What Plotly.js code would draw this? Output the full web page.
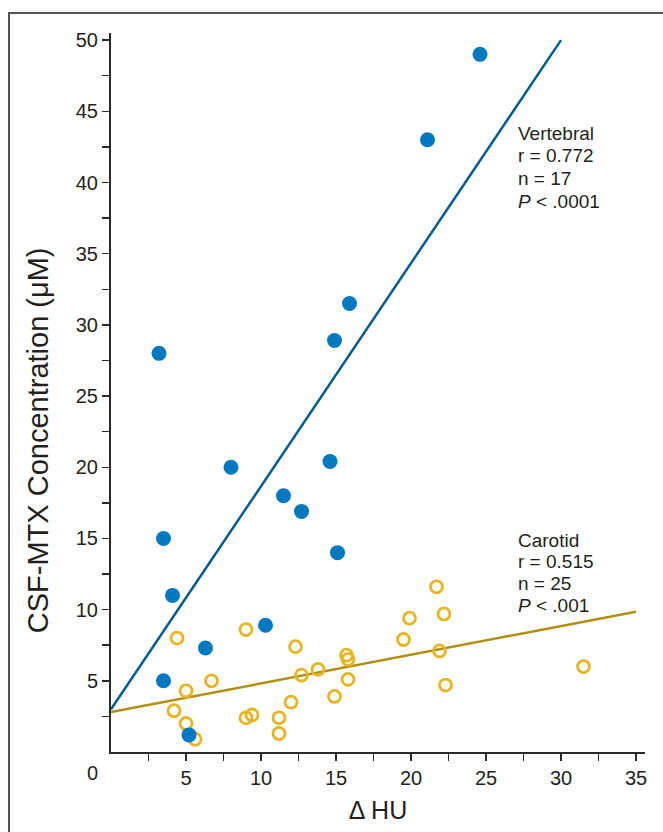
<!DOCTYPE html>
<html>
<head>
<meta charset="utf-8">
<script src="https://cdn.plot.ly/plotly-3.0.1.min.js"></script>
<style>
  html, body { margin: 0; padding: 0; background: #fff; overflow: hidden; }
  #frame { position: absolute; left: 8px; top: 12px; width: 900px; height: 1000px;
           border-left: 2px solid #555; border-top: 2px solid #555; box-sizing: border-box; }
  #chart { position: absolute; left: 0; top: 0; width: 663px; height: 832px; }
</style>
</head>
<body>
<div id="frame"></div>
<div id="chart"></div>
<script>
// Vertebral artery injection (filled circles)
const vertX = [24.6, 21.1, 15.9, 14.9, 3.2, 14.6, 8.0, 11.5, 12.7, 15.1, 3.5, 4.1, 10.3, 6.3, 3.5, 5.2];
const vertY = [49.0, 43.0, 31.5, 28.9, 28.0, 20.4, 20.0, 18.0, 16.9, 14.0, 15.0, 11.0, 8.9, 7.3, 5.0, 1.2];

// Carotid artery injection (open circles)
const carX = [4.4, 9.0, 5.0, 6.7, 4.2, 5.0, 5.6, 9.0, 9.4, 11.2, 11.2, 12.0, 12.3, 12.7, 13.8,
              14.9, 15.7, 15.8, 15.8, 19.5, 19.9, 21.7, 22.2, 21.9, 22.3, 31.5];
const carY = [8.0, 8.6, 4.3, 5.0, 2.9, 2.0, 0.9, 2.4, 2.6, 2.4, 1.3, 3.5, 7.4, 5.4, 5.8,
              3.9, 6.8, 6.5, 5.1, 7.9, 9.4, 11.6, 9.7, 7.1, 4.7, 6.0];

// Regression lines (end points)
const vertFitX = [0, 30];
const vertFitY = [3.0, 50.0];
const carFitX = [0, 35];
const carFitY = [2.8, 9.85];

// Ticks
const xTickVals = [2.5, 5, 7.5, 10, 12.5, 15, 17.5, 20, 22.5, 25, 27.5, 30, 32.5, 35];
const xTickText = ['', '5', '', '10', '', '15', '', '20', '', '25', '', '30', '', '35'];
const yTickVals = [2.5, 5, 7.5, 10, 12.5, 15, 17.5, 20, 22.5, 25, 27.5, 30, 32.5, 35, 37.5, 40, 42.5, 45, 47.5, 50];
const yTickText = ['', '5', '', '10', '', '15', '', '20', '', '25', '', '30', '', '35', '', '40', '', '45', '', '50'];

// Titles and statistics text
const xTitle = 'Δ HU';
const yTitle = 'CSF-MTX Concentration (μM)';
const vertStats = ['Vertebral', 'r = 0.772', 'n = 17', '<i>P</i> &lt; .0001'];
const carStats = ['Carotid', 'r = 0.515', 'n = 25', '<i>P</i> &lt; .001'];

const FONT = 'Liberation Sans, Arial, Helvetica, sans-serif';
const TXT = '#231f20';

const traces = [
  { x: carFitX, y: carFitY, mode: 'lines', type: 'scatter',
    line: { color: '#b08f12', width: 2.5 }, hoverinfo: 'skip' },
  { x: vertFitX, y: vertFitY, mode: 'lines', type: 'scatter',
    line: { color: '#005b8f', width: 2.5 }, hoverinfo: 'skip' },
  { x: carX, y: carY, mode: 'markers', type: 'scatter',
    marker: { symbol: 'circle-open', size: 12, color: '#e6b522', line: { width: 2.8, color: '#e6b522' } } },
  { x: vertX, y: vertY, mode: 'markers', type: 'scatter',
    marker: { symbol: 'circle', size: 15, color: '#0079c1' } }
];

const annotations = [];
vertStats.forEach((t, i) => annotations.push({
  x: 27.0, y: 43.47, xref: 'x', yref: 'y', text: t, showarrow: false,
  xanchor: 'left', yanchor: 'middle', yshift: -22.7 * i,
  font: { family: FONT, size: 19, color: TXT }
}));
carStats.forEach((t, i) => annotations.push({
  x: 27.0, y: 14.89, xref: 'x', yref: 'y', text: t, showarrow: false,
  xanchor: 'left', yanchor: 'middle', yshift: -21.7 * i,
  font: { family: FONT, size: 19, color: TXT }
}));
annotations.push({
  x: 0, y: 0, xref: 'x', yref: 'y', text: '0', showarrow: false,
  xanchor: 'center', yanchor: 'middle', xshift: -19, yshift: -21,
  font: { family: FONT, size: 20, color: TXT }
});
// y-axis title (placed lower than the plot centre, as in the original)
annotations.push({
  x: 0, y: 21.9, xref: 'paper', yref: 'y', text: yTitle, showarrow: false,
  textangle: -90, xanchor: 'center', yanchor: 'middle', xshift: -73,
  font: { family: FONT, size: 29, color: TXT }
});

const layout = {
  width: 663, height: 832,
  margin: { l: 111, r: 18, t: 33, b: 80 },
  paper_bgcolor: 'rgba(0,0,0,0)',
  plot_bgcolor: 'rgba(0,0,0,0)',
  showlegend: false,
  font: { family: FONT, color: TXT },
  xaxis: {
    range: [0, 35.6], showgrid: false, zeroline: false,
    showline: true, linecolor: '#2a2a2a', linewidth: 2,
    ticks: 'outside', ticklen: 7, tickwidth: 1.5, tickcolor: '#2a2a2a',
    tickmode: 'array', tickvals: xTickVals, ticktext: xTickText,
    tickfont: { family: FONT, size: 20, color: TXT },
    title: { text: xTitle, font: { family: FONT, size: 25, color: TXT }, standoff: 13 }
  },
  yaxis: {
    range: [0, 50.5], showgrid: false, zeroline: false,
    showline: true, linecolor: '#2a2a2a', linewidth: 2,
    ticks: 'outside', ticklen: 7, tickwidth: 1.5, tickcolor: '#2a2a2a',
    tickmode: 'array', tickvals: yTickVals, ticktext: yTickText,
    tickfont: { family: FONT, size: 20, color: TXT }
  },
  annotations: annotations
};

Plotly.newPlot('chart', traces, layout, { displayModeBar: false, staticPlot: true });
</script>
</body>
</html>
